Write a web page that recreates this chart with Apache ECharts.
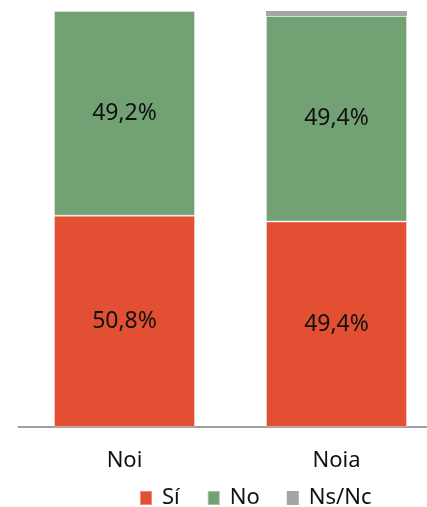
<!DOCTYPE html>
<html><head><meta charset="utf-8">
<script src="https://cdn.jsdelivr.net/npm/echarts@6/dist/echarts.min.js"></script>
<style>html,body{margin:0;padding:0;background:#fff;overflow:hidden}#c{width:443px;height:507px}</style>
</head><body><div id="c"></div>
<script>
const categories = ['Noi', 'Noia'];
const si = [50.8, 49.4];
const no = [49.2, 49.4];
const nsnc = [0, 1.2];

const font = 'Noto Sans';
const chart = echarts.init(document.getElementById('c'), null, {renderer: 'canvas'});
function lbl(show) {
  return {
    show: show, position: 'inside', color: '#111', fontSize: 23, fontFamily: font,
    formatter: p => p.value > 5 ? p.value.toFixed(1).replace('.', ',') + '%' : ''
  };
}
chart.setOption({
  animation: false,
  grid: {left: 18.5, top: 11, width: 424, bottom: 80},
  legend: {
    left: 134, top: 482, itemWidth: 12, itemHeight: 14, itemGap: 27,
    icon: 'rect',
    textStyle: {fontSize: 22, fontFamily: font, color: '#111', padding: [0, 0, 0, 5]},
    data: ['Sí', 'No', 'Ns/Nc']
  },
  xAxis: {
    type: 'category', data: categories,
    axisLine: {lineStyle: {color: '#a0a0a0', width: 2}},
    axisTick: {show: false},
    axisLabel: {fontSize: 22, fontFamily: font, color: '#111', margin: 23}
  },
  yAxis: {type: 'value', min: 0, max: 100, show: false, splitLine: {show: false}},
  series: [
    {name: 'Sí', type: 'bar', stack: 's', data: si, barWidth: 141,
     itemStyle: {color: '#E34F33', borderColor: 'rgba(255,255,255,0.35)', borderWidth: 1}, label: lbl(true)},
    {name: 'No', type: 'bar', stack: 's', data: no, barWidth: 141,
     itemStyle: {color: '#72A274', borderColor: 'rgba(255,255,255,0.35)', borderWidth: 1}, label: lbl(true)},
    {name: 'Ns/Nc', type: 'bar', stack: 's', data: nsnc, barWidth: 141,
     itemStyle: {color: '#A5A5A5'}, label: {show: false}}
  ]
});
</script></body></html>
